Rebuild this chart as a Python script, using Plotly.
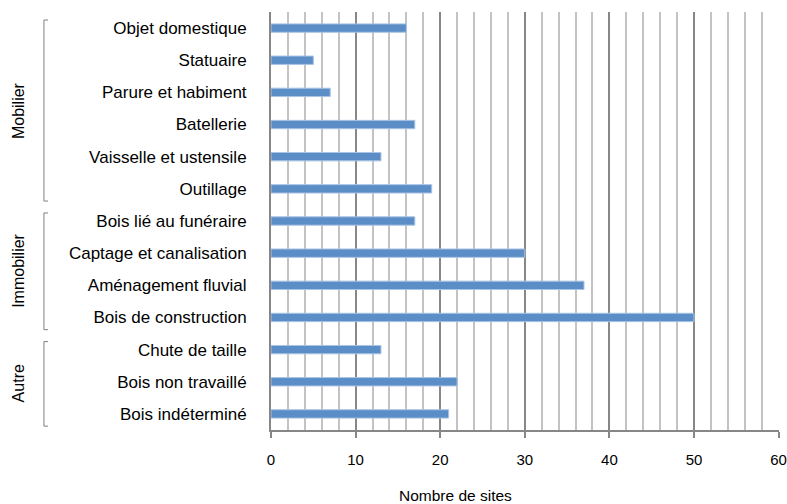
import plotly.graph_objects as go

categories = [
    "Objet domestique", "Statuaire", "Parure et habiment", "Batellerie",
    "Vaisselle et ustensile", "Outillage", "Bois lié au funéraire",
    "Captage et canalisation", "Aménagement fluvial", "Bois de construction",
    "Chute de taille", "Bois non travaillé", "Bois indéterminé",
]
values = [16, 5, 7, 17, 13, 19, 17, 30, 37, 50, 13, 22, 21]

groups = ["Mobilier", "Immobilier", "Autre"]
group_start = [0, 6, 10]   # first category index of each group
group_end = [5, 9, 12]     # last category index of each group

x_ticks = [0, 10, 20, 30, 40, 50, 60]
x_title = "Nombre de sites"

FONT = "Liberation Sans, Arial, sans-serif"

fig = go.Figure()
fig.add_trace(go.Bar(
    y=categories, x=values, orientation="h",
    marker=dict(color="#5B8DC6", line=dict(color="#A9C4E4", width=1)),
    width=0.26,
))

shapes = []
annotations = []
for g, s, e in zip(groups, group_start, group_end):
    top = s - 0.25
    bot = e + 0.38
    xl, xr = -0.447, -0.439
    shapes.append(dict(type="line", xref="paper", yref="y", x0=xl, x1=xl, y0=top, y1=bot,
                       line=dict(color="#7f7f7f", width=1)))
    shapes.append(dict(type="line", xref="paper", yref="y", x0=xl, x1=xr, y0=top, y1=top,
                       line=dict(color="#7f7f7f", width=1)))
    shapes.append(dict(type="line", xref="paper", yref="y", x0=xl, x1=xr, y0=bot, y1=bot,
                       line=dict(color="#7f7f7f", width=1)))
    annotations.append(dict(text=g, xref="paper", yref="y", x=-0.497, y=(top + bot) / 2,
                            textangle=-90, showarrow=False, xanchor="center", yanchor="middle",
                            font=dict(family=FONT, size=16, color="#000000")))

annotations.append(dict(text=x_title, xref="paper", yref="paper", x=0.363, y=0, yshift=-65,
                        showarrow=False, xanchor="center", yanchor="middle",
                        font=dict(family=FONT, size=15.5, color="#000000")))

fig.update_layout(
    width=787, height=504,
    margin=dict(l=271, r=8, t=12, b=74, autoexpand=False),
    paper_bgcolor="white", plot_bgcolor="white",
    showlegend=False,
    shapes=shapes,
    annotations=annotations,
    xaxis=dict(
        range=[0, 60.05], tickvals=x_ticks, ticktext=[str(t) for t in x_ticks],
        showgrid=True, gridcolor="#878787", gridwidth=2,
        minor=dict(dtick=2, showgrid=True, gridcolor="#c3c3c3", gridwidth=2),
        showline=True, linecolor="#878787", linewidth=2,
        ticks="outside", ticklen=6, tickwidth=2, tickcolor="#878787",
        ticklabelstandoff=9, ticklabeloverflow="allow", automargin=False,
        tickfont=dict(family=FONT, size=15, color="#000000"),
        zeroline=False, fixedrange=True,
    ),
    yaxis=dict(
        autorange="reversed", categoryorder="array", categoryarray=categories,
        showline=True, linecolor="#878787", linewidth=2,
        ticks="", ticklabelstandoff=19, automargin=False,
        tickfont=dict(family=FONT, size=17, color="#000000"),
        showgrid=False, fixedrange=True,
    ),
    bargap=0.74,
)

fig.write_html(
    "out.html",
    config={"displayModeBar": False},
    post_script="document.body.style.margin='0';document.body.style.overflow='hidden';",
)
